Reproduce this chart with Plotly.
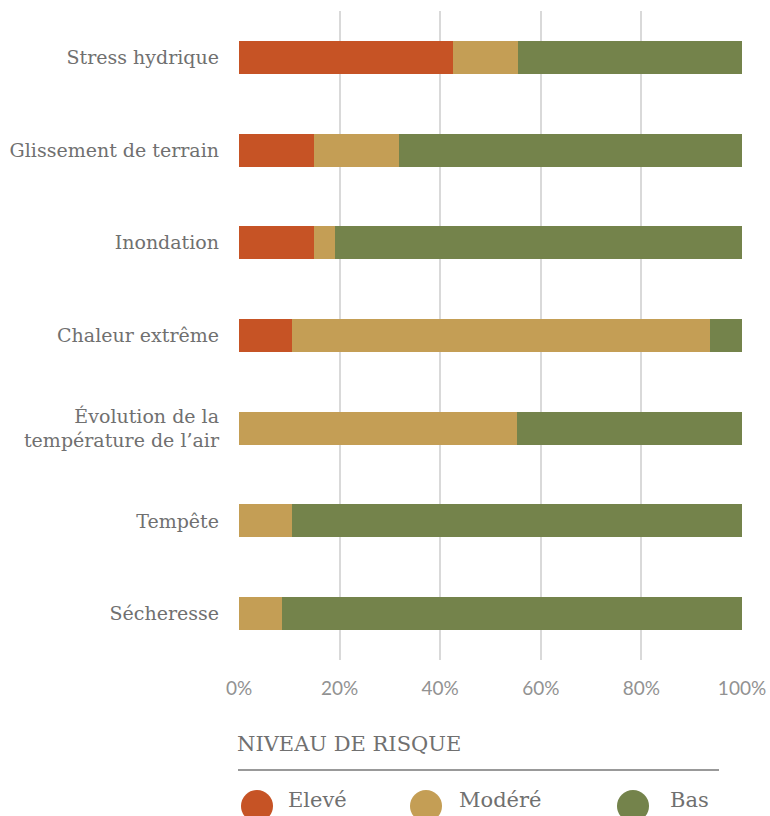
import plotly.graph_objects as go

categories = ["Stress hydrique", "Glissement de terrain", "Inondation", "Chaleur extrême",
              "Évolution de la<br>température de l’air", "Tempête", "Sécheresse"]
eleve = [42.6, 14.9, 14.9, 10.6, 0.0, 0.0, 0.0]
modere = [12.8, 17.0, 4.2, 83.0, 55.3, 10.6, 8.5]
bas = [44.7, 68.1, 80.9, 6.4, 44.7, 89.4, 91.5]
series_names = ["Elevé", "Modéré", "Bas"]
colors = ["#C65325", "#C49E55", "#74834B"]
tick_vals = [0, 20, 40, 60, 80, 100]
tick_text = ["0%", "20%", "40%", "60%", "80%", "100%"]
legend_title = "NIVEAU DE RISQUE"

W, H = 770, 816
# plot area in page coordinates: x 239..742, y 11..660
L = 239
R = W - 742
T = 11
B = H - 660

fig = go.Figure()
for name, vals, col in zip(series_names, [eleve, modere, bas], colors):
    fig.add_trace(go.Bar(y=categories, x=vals, name=name, orientation="h",
                         marker=dict(color=col, line=dict(width=0)),
                         showlegend=False, hoverinfo="x+name"))

fig.update_layout(
    width=W, height=H, barmode="stack", bargap=0.645,
    margin=dict(l=L, r=R, t=T, b=B, autoexpand=False),
    paper_bgcolor="white", plot_bgcolor="white",
    xaxis=dict(range=[0, 100], tickvals=tick_vals, ticktext=tick_text,
               showgrid=True, gridcolor="#d9d9d9", gridwidth=2, zeroline=False,
               showline=False, ticks="", ticklabelstandoff=15,
               tickfont=dict(family="Lato", size=19, color="#929292")),
    yaxis=dict(autorange="reversed", showgrid=False, showline=False, ticks="",
               ticklabelstandoff=19,
               tickfont=dict(family="DejaVu Serif", size=19, color="#707070")),
)

pw = W - L - R
ph = H - T - B
def px(x):
    return (x - L) / pw
def py(y):
    return (H - B - y) / ph

fig.add_annotation(x=px(235), y=py(744), xref="paper", yref="paper", text=legend_title,
                   showarrow=False, xanchor="left", yanchor="middle",
                   font=dict(family="DejaVu Serif", size=21, color="#707070"))
fig.add_shape(type="line", xref="paper", yref="paper", x0=px(238), x1=px(719),
              y0=py(770), y1=py(770), line=dict(color="#999999", width=2))

leg_cx = [257, 426, 633]
leg_tx = [286, 457, 668]
r = 16
for name, col, cx, tx in zip(series_names, colors, leg_cx, leg_tx):
    fig.add_shape(type="circle", xref="paper", yref="paper",
                  x0=px(cx - r), x1=px(cx + r), y0=py(806 + r), y1=py(806 - r),
                  fillcolor=col, line=dict(width=0))
    fig.add_annotation(x=px(tx), y=py(800), xref="paper", yref="paper", text=name,
                       showarrow=False, xanchor="left", yanchor="middle",
                       font=dict(family="DejaVu Serif", size=21, color="#707070"))

fig.write_html("out.html", config={"displayModeBar": False},
               post_script="document.body.style.margin='0';document.body.style.overflow='hidden';")
